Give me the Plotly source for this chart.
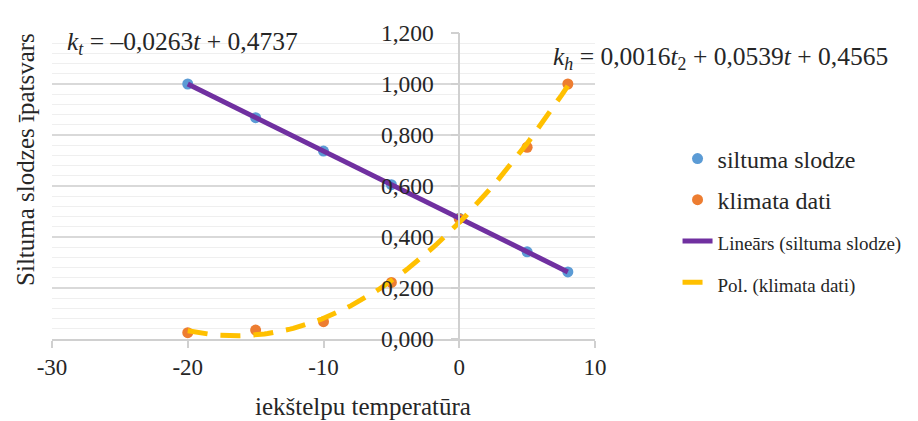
import numpy as np
import plotly.graph_objects as go

# ---- data ----
temperature = [-20, -15, -10, -5, 0, 5, 8]
siltuma_slodze = [1.000, 0.868, 0.737, 0.605, 0.474, 0.342, 0.263]
klimata_dati = [0.025, 0.035, 0.068, 0.222, 0.472, 0.752, 1.000]

x_tick_vals = [-30, -20, -10, 0, 10]
x_tick_labels = ["-30", "-20", "-10", "0", "10"]
y_tick_vals = [0.0, 0.2, 0.4, 0.6, 0.8, 1.0, 1.2]
y_tick_labels = ["0,000", "0,200", "0,400", "0,600", "0,800", "1,000", "1,200"]

x_range = [-30, 10]
y_range = [0, 1.2]

eq_linear = "<i>k</i><sub><i>t</i></sub> = –0,0263<i>t</i> + 0,4737"
eq_poly = "<i>k</i><sub><i>h</i></sub> = 0,0016<i>t</i><sub>2</sub> + 0,0539<i>t</i> + 0,4565"

# ---- trendlines (fitted like the spreadsheet does) ----
t = np.array(temperature, dtype=float)
t_fit = np.linspace(min(temperature), max(temperature), 120)
lin_coef = np.polyfit(t, np.array(siltuma_slodze), 1)
poly_coef = np.polyfit(t, np.array(klimata_dati), 2)
lin_fit = np.polyval(lin_coef, t_fit)
poly_fit = np.polyval(poly_coef, t_fit)

FONT = "Liberation Serif, Times New Roman, serif"
TXT = "#262626"

fig = go.Figure()
fig.add_trace(go.Scatter(x=temperature, y=siltuma_slodze, mode="markers",
                         name="siltuma slodze", legendgroup="a",
                         marker=dict(color="#5B9BD5", size=11)))
fig.add_trace(go.Scatter(x=temperature, y=klimata_dati, mode="markers",
                         name="klimata dati", legendgroup="b",
                         marker=dict(color="#ED7D31", size=11)))
fig.add_trace(go.Scatter(x=t_fit, y=lin_fit, mode="lines",
                         name="<span style='font-size:19px'>Lineārs (siltuma slodze)</span>",
                         legendgroup="c",
                         line=dict(color="#7030A0", width=5)))
fig.add_trace(go.Scatter(x=t_fit, y=poly_fit, mode="lines",
                         name="<span style='font-size:19px'>Pol. (klimata dati)</span>",
                         legendgroup="d",
                         line=dict(color="#FFC000", width=5, dash="20px,13px")))

yaxis_pos = (0 - x_range[0]) / (x_range[1] - x_range[0])

fig.update_layout(
    width=910, height=413,
    margin=dict(l=44, r=321, t=14, b=82),
    paper_bgcolor="white", plot_bgcolor="white",
    font=dict(family=FONT, color=TXT, size=22),
    xaxis=dict(range=x_range, tickvals=x_tick_vals, ticktext=x_tick_labels,
               showgrid=False, zeroline=False, showline=True, linecolor="#d0d0d0",
               linewidth=1.5, ticks="outside", ticklen=7, tickcolor="#d0d0d0",
               tickwidth=1.5, tickfont=dict(size=23, family=FONT, color=TXT)),
    yaxis=dict(range=y_range, tickvals=y_tick_vals, ticktext=y_tick_labels,
               anchor="free", position=yaxis_pos,
               showgrid=True, gridcolor="#d9d9d9", gridwidth=1.5,
               zeroline=False, showline=True, linecolor="#d0d0d0", linewidth=1.5,
               ticks="outside", ticklen=8, tickcolor="#d0d0d0", tickwidth=1.5,
               ticklabelstandoff=12,
               tickfont=dict(size=23.5, family=FONT, color=TXT),
               minor=dict(dtick=0.04, showgrid=True, gridcolor="#efefef", gridwidth=1)),
    legend=dict(x=1.152, y=0.662, xanchor="left", yanchor="top",
                font=dict(size=24, family=FONT, color=TXT),
                tracegroupgap=7, bgcolor="rgba(0,0,0,0)"),
    showlegend=True,
)

fig.add_annotation(text=eq_linear, xref="paper", yref="paper", x=0.024, y=0.968,
                   xanchor="left", yanchor="middle", showarrow=False,
                   font=dict(size=25.5, family=FONT, color=TXT))
fig.add_annotation(text=eq_poly, xref="paper", yref="paper", x=0.919, y=0.918,
                   xanchor="left", yanchor="middle", showarrow=False,
                   font=dict(size=25.5, family=FONT, color=TXT))
fig.add_annotation(text="Siltuma slodzes īpatsvars", xref="paper", yref="paper",
                   x=-0.05, y=0.588, textangle=-90, xanchor="center", yanchor="middle",
                   showarrow=False, font=dict(size=25, family=FONT, color=TXT))
fig.add_annotation(text="iekštelpu temperatūra", xref="paper", yref="paper",
                   x=0.573, y=-0.222, xanchor="center", yanchor="middle",
                   showarrow=False, font=dict(size=25, family=FONT, color=TXT))

fig.write_html("out.html")
